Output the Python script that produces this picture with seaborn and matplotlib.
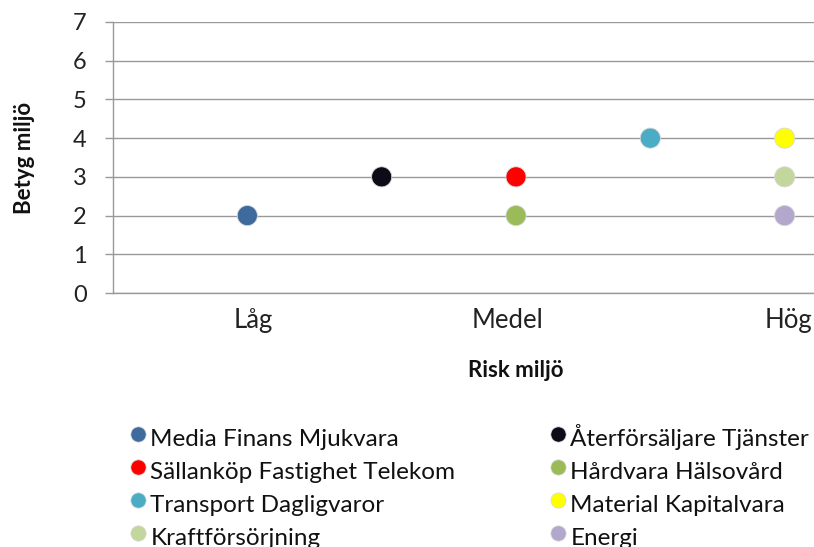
import matplotlib
matplotlib.use("Agg")
import matplotlib.pyplot as plt
import matplotlib.transforms as mtransforms
import seaborn as sns
import pandas as pd
from matplotlib.lines import Line2D

sectors = ["Media Finans Mjukvara", "Återförsäljare Tjänster", "Sällanköp Fastighet Telekom",
           "Hårdvara Hälsovård", "Transport Dagligvaror", "Material Kapitalvara",
           "Kraftförsörjning", "Energi"]
risk = [1, 1.5, 2, 2, 2.5, 3, 3, 3]
betyg = [2, 3, 3, 2, 4, 4, 3, 2]
colors = ["#3F6A9E", "#0E0B18", "#FF0000", "#9BBB59", "#4BACC6", "#FFFF00", "#C3D69B", "#B3A7CC"]
risk_ticks = [1, 2, 3]
risk_labels = ["Låg", "Medel", "Hög"]

sns.set_theme(style="white")
plt.rcParams['font.family'] = ['Lato', 'DejaVu Sans']

df = pd.DataFrame({"sector": sectors, "risk": risk, "betyg": betyg})

W, H = 814, 547
fig = plt.figure(figsize=(W/100, H/100), dpi=100)
# plot area extends beyond the right edge of the picture (cropped like the reference)
ax = fig.add_axes([113/W, 1-293/H, 806/W, (293-22)/H])

sns.scatterplot(data=df, x="risk", y="betyg", hue="sector", palette=colors,
                hue_order=sectors, s=210, edgecolor="#D8D8D8", linewidth=0.6,
                legend=False, ax=ax, zorder=3)

ax.set_xlim(0.5, 3.5)
ax.set_ylim(0, 7)
ax.set_yticks(range(0, 8))
ax.set_xticks(risk_ticks)
ax.set_xticklabels(risk_labels)
ax.tick_params(axis="y", labelsize=17, labelcolor="#222222", length=6, width=1,
               color="#999999", pad=13, direction="out", left=True)
ax.tick_params(axis="x", labelsize=18.5, labelcolor="#222222", length=0, pad=11)
shifts = [6, -9, 4]
for lab, dx in zip(ax.get_xticklabels(), shifts):
    lab.set_transform(lab.get_transform() + mtransforms.ScaledTranslation(dx/100, 0, fig.dpi_scale_trans))
ax.grid(axis="y", color="#999999", linewidth=1)
ax.grid(axis="x", visible=False)
for s in ["top", "right"]:
    ax.spines[s].set_visible(False)
for s in ["left", "bottom"]:
    ax.spines[s].set_color("#999999")
    ax.spines[s].set_linewidth(1)

ax.set_xlabel("Risk miljö", fontsize=16, fontweight="bold", labelpad=19, color="#111111")
ax.set_ylabel("Betyg miljö", fontsize=16, fontweight="bold", labelpad=27, color="#111111")

handles = [Line2D([0], [0], marker="o", linestyle="", markersize=11,
                  markerfacecolor=c, markeredgecolor="#D8D8D8", markeredgewidth=0.5, label=l)
           for l, c in zip(sectors, colors)]
order = [0, 2, 4, 6, 1, 3, 5, 7]
FS = 17.5
fs_px = FS * 100 / 72


def make_legend(colsp):
    lg = fig.legend([handles[i] for i in order], [sectors[i] for i in order],
                    ncol=2, loc="upper left", bbox_to_anchor=(126/W, 1-421.5/H),
                    frameon=False, fontsize=FS, handletextpad=0.0, columnspacing=colsp,
                    labelspacing=0.0, handlelength=1.0, handleheight=1.71,
                    borderaxespad=0, borderpad=0)
    for t in lg.get_texts():
        t.set_color("#111111")
    return lg


lg = make_legend(2.0)
fig.canvas.draw()
r = fig.canvas.get_renderer()
texts = lg.get_texts()
x1 = texts[0].get_window_extent(r).x0
x2 = texts[4].get_window_extent(r).x0
lg.remove()
newsp = 2.0 + (420 - (x2 - x1)) / fs_px
lg = make_legend(newsp)

fig.savefig("out.png", dpi=100)
